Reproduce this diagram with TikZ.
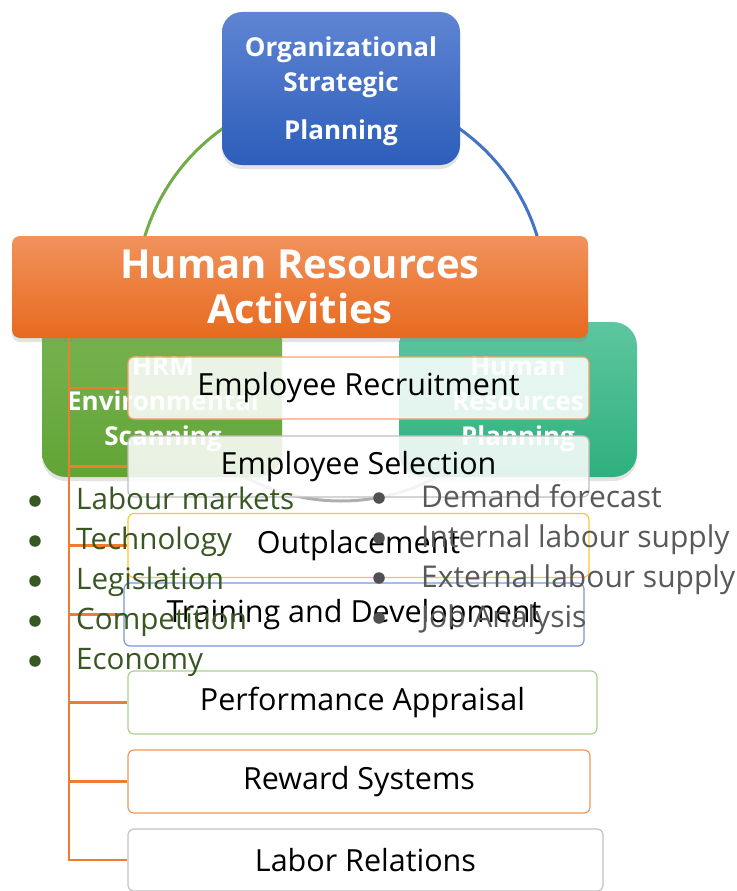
\documentclass[tikz,border=0pt]{standalone}
\usepackage{fontspec}
\setmainfont{Open Sans}
\usetikzlibrary{shadows}
\definecolor{bluetop}{RGB}{95,132,211}
\definecolor{bluebot}{RGB}{44,94,186}
\definecolor{orgtop}{RGB}{241,146,92}
\definecolor{orgbot}{RGB}{231,106,30}
\definecolor{grntop}{RGB}{120,180,82}
\definecolor{grnbot}{RGB}{98,164,54}
\definecolor{teatop}{RGB}{94,198,160}
\definecolor{teabot}{RGB}{46,176,126}
\definecolor{arcgreen}{RGB}{112,173,71}
\definecolor{arcblue}{RGB}{68,114,196}
\definecolor{arcgrey}{RGB}{175,175,175}
\definecolor{trunk}{RGB}{237,125,49}
\definecolor{lgreen}{RGB}{56,87,35}
\definecolor{rgrey}{RGB}{89,89,89}
\definecolor{dotgrey}{RGB}{80,80,80}
\definecolor{brec}{RGB}{243,160,110}
\definecolor{bsel}{RGB}{190,190,190}
\definecolor{bout}{RGB}{255,198,50}
\definecolor{btrn}{RGB}{120,152,216}
\definecolor{bperf}{RGB}{169,209,142}
\definecolor{brew}{RGB}{245,150,90}
\definecolor{blab}{RGB}{195,195,195}
\tikzset{
  softshadow/.style={drop shadow={opacity=0.22, shadow xshift=0pt, shadow yshift=-4pt}},
  bigbox/.style={rounded corners=#1, inner sep=0pt, align=center, text=white, softshadow},
  boxtext/.style={inner sep=0pt, align=center, text=white, font=\bfseries\fontsize{26}{35}\selectfont},
  wbox/.style={draw=#1, line width=1.2pt, rounded corners=6pt, fill=white, fill opacity=0.86,
    text opacity=1, text=black, inner sep=0pt, minimum width=461, minimum height=62,
    font=\fontsize{30.5}{36}\selectfont},
  conn/.style={draw=trunk, line width=2.6pt},
  lbul/.style={anchor=base west, inner sep=0pt, text=lgreen, font=\fontsize{29.6}{35}\selectfont},
  rbul/.style={anchor=base west, inner sep=0pt, text=rgrey, font=\fontsize{30}{35}\selectfont},
  ldot/.style={circle, fill=lgreen, inner sep=0pt, minimum size=11.5},
  rdot/.style={circle, fill=dotgrey, inner sep=0pt, minimum size=11.5},
  cyc/.style={line width=3pt}
}
\begin{document}
\begin{tikzpicture}[x=1pt,y=-1pt]
\useasboundingbox (0,0) rectangle (736,891);
\fill[white] (0,0) rectangle (736,891);
% cycle arcs
\coordinate (cc) at (341,296);
\draw[cyc, arcgreen] (cc) ++(120:205) arc[start angle=120, end angle=270, radius=205];
\draw[cyc, arcblue] (cc) ++(270:205) arc[start angle=270, end angle=420, radius=205];
\draw[cyc, arcgrey] (cc) ++(60:205) arc[start angle=60, end angle=120, radius=205];
% top box
\node[bigbox=20pt, top color=bluetop, bottom color=bluebot, minimum width=238, minimum height=153] (osp) at (341,88.5) {};
\node[boxtext] (ospt) at (341,91.5) {Organizational\\Strategic\\[13pt]Planning};
% side boxes
\node[bigbox=24pt, top color=grntop, bottom color=grnbot, minimum width=240, minimum height=160] (env) at (162,397) {};
\node[boxtext] (envt) at (163,404) {HRM\\Environmental\\Scanning};
\node[bigbox=24pt, top color=teatop, bottom color=teabot, minimum width=238, minimum height=155] (hrp) at (518,399.5) {};
\node[boxtext] (hrpt) at (518,404) {Human\\Resources\\Planning};
% main box
\node[bigbox=8pt, top color=orgtop, bottom color=orgbot, minimum width=576, minimum height=102,
  font=\bfseries\fontsize{40}{45}\selectfont] (hra) at (300,287)
  {Human Resources\\Activities};
% activity boxes
\node[wbox=brec] (rec) at (358.5,388) {Employee Recruitment};
\node[wbox=bsel, minimum height=61] (sel) at (358.5,466.5) {Employee Selection};
\node[wbox=bout, minimum height=64] (outp) at (358.5,545.5) {Outplacement};
\node[wbox=btrn, minimum width=460, minimum height=63] (trn) at (354,614.5) {Training and Development};
\node[wbox=bperf, minimum width=469, minimum height=63] (perf) at (362.5,702.5) {Performance Appraisal};
\node[wbox=brew, minimum width=462, minimum height=63] (rew) at (359,781.5) {Reward Systems};
\node[wbox=blab, minimum width=475, minimum height=62] (lab) at (365.5,860) {Labor Relations};
% connectors
\coordinate (ttop) at (69,338);
\draw[conn] (ttop) |- (lab.west);
\draw[conn] (ttop |- rec.west) -- (rec.west);
\draw[conn] (ttop |- sel.west) -- (sel.west);
\draw[conn] (ttop |- outp.west) -- (outp.west);
\draw[conn] (ttop |- trn.west) -- (trn.west);
\draw[conn] (ttop |- perf.west) -- (perf.west);
\draw[conn] (ttop |- rew.west) -- (rew.west);
% left bullets
\node[ldot] (ld1) at (35,501) {};
\node[ldot] (ld2) at (35,541) {};
\node[ldot] (ld3) at (35,581) {};
\node[ldot] (ld4) at (35,621) {};
\node[ldot] (ld5) at (35,661) {};
\node[lbul] (lt1) at (76,509) {Labour markets};
\node[lbul] (lt2) at (76,549) {Technology};
\node[lbul] (lt3) at (76,589) {Legislation};
\node[lbul] (lt4) at (76,629) {Competition};
\node[lbul] (lt5) at (76,669) {Economy};
% right bullets
\node[rdot] (rd1) at (379,498) {};
\node[rdot] (rd2) at (379,538) {};
\node[rdot] (rd3) at (379,578) {};
\node[rdot] (rd4) at (379,618) {};
\node[rbul] (rt1) at (421,507) {Demand forecast};
\node[rbul] (rt2) at (421,547) {Internal labour supply};
\node[rbul] (rt3) at (421,587) {External labour supply};
\node[rbul] (rt4) at (421,627) {Job Analysis};
\end{tikzpicture}
\end{document}
